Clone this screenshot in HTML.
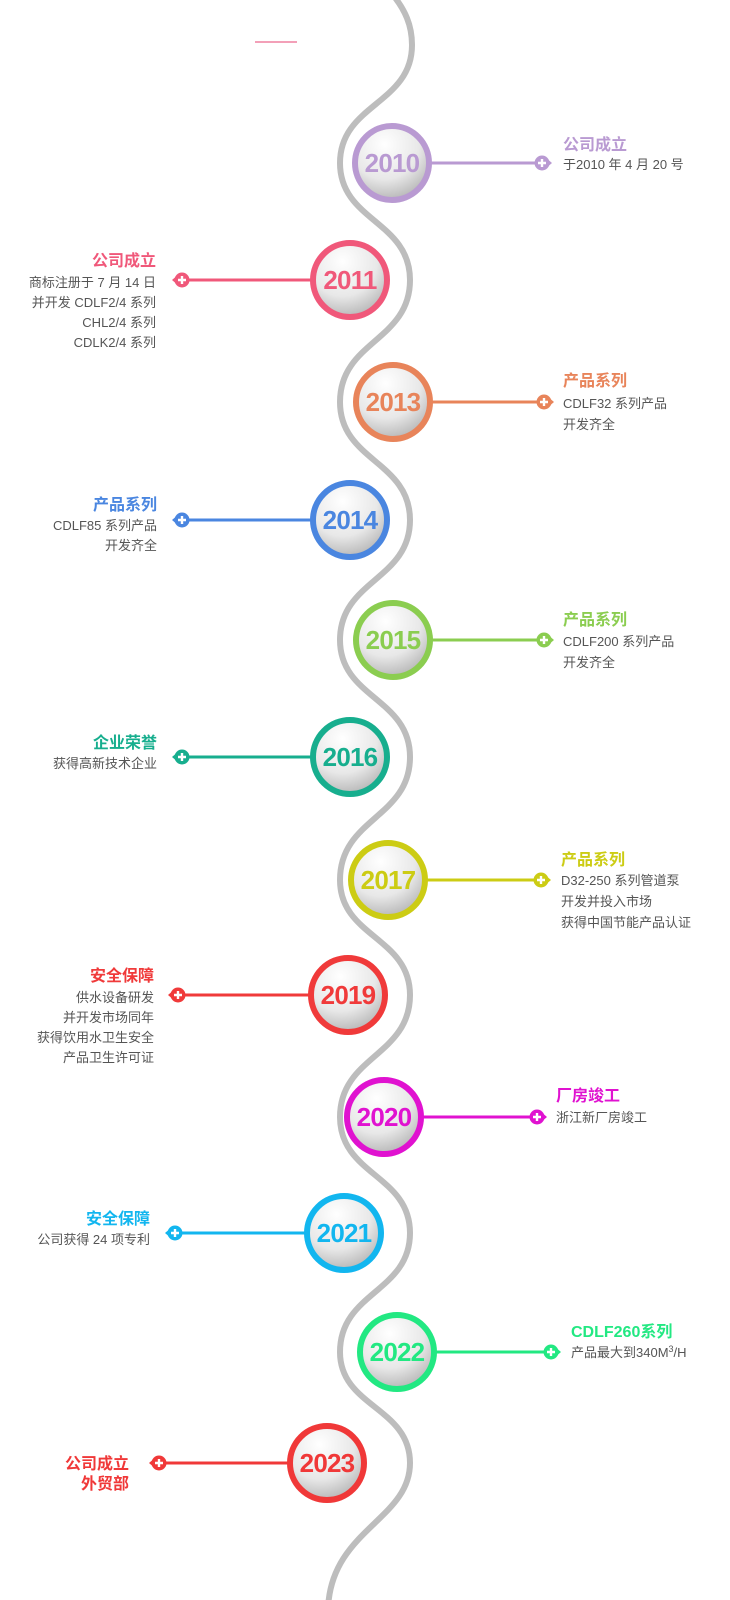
<!DOCTYPE html>
<html><head><meta charset="utf-8">
<style>
html,body{margin:0;padding:0;background:#fff;}
svg{display:block;}
text{font-family:"Liberation Sans","Noto Sans CJK SC",sans-serif;}
.t{font-size:16px;font-weight:bold;}
.b{font-size:13px;fill:#555;}
.y{font-size:26px;font-weight:bold;text-anchor:middle;letter-spacing:-0.8px;}
</style></head>
<body>
<svg width="730" height="1600" viewBox="0 0 730 1600" xmlns="http://www.w3.org/2000/svg">
<defs>
<radialGradient id="g" cx="0.4" cy="0.25" r="0.85">
<stop offset="0" stop-color="#ffffff"/>
<stop offset="0.55" stop-color="#e8e8e8"/>
<stop offset="1" stop-color="#a8a8a8"/>
</radialGradient>
<g id="pr"><circle cx="0" cy="0" r="7.5"/><path d="M3 -6 L10 0 L3 6 Z"/><path d="M-4 0h8M0 -4v8" stroke="#fff" stroke-width="2.4"/></g>
<g id="pl"><circle cx="0" cy="0" r="7.5"/><path d="M-3 -6 L-10 0 L-3 6 Z"/><path d="M-4 0h8M0 -4v8" stroke="#fff" stroke-width="2.4"/></g>
</defs>
<line x1="255" y1="42" x2="297" y2="42" stroke="#f3a0b8" stroke-width="2"/>
<path d="M393 -5 C405 10 412 25 412 45 C412 104 340 104 340 163 C340 221 410 221 410 280 C410 341 340 341 340 402 C340 461 410 461 410 520 C410 580 340 580 340 640 C340 698 410 698 410 757 C410 818 340 818 340 880 C340 937 410 937 410 995 C410 1056 340 1056 340 1117 C340 1175 410 1175 410 1233 C410 1292 340 1292 340 1352 C340 1407 410 1407 410 1463 C410 1520 330 1530 328 1610" fill="none" stroke="#bdbdbd" stroke-width="6"/>

<!-- 2010 right -->
<line x1="430" y1="163" x2="542" y2="163" stroke="#b99ad2" stroke-width="3"/>
<use href="#pr" x="542" y="163" fill="#b99ad2"/>
<circle cx="392" cy="163" r="37" fill="url(#g)" stroke="#b99ad2" stroke-width="6"/>
<text x="392" y="172" class="y" fill="#b99ad2">2010</text>
<text x="563" y="150" class="t" fill="#b99ad2">公司成立</text>
<text x="563" y="169" class="b">于2010 年 4 月 20 号</text>

<!-- 2011 left -->
<line x1="182" y1="280" x2="312" y2="280" stroke="#f0587a" stroke-width="3"/>
<use href="#pl" x="182" y="280" fill="#f0587a"/>
<circle cx="350" cy="280" r="37" fill="url(#g)" stroke="#f0587a" stroke-width="6"/>
<text x="350" y="289" class="y" fill="#f0587a">2011</text>
<text x="156" y="266" class="t" fill="#f0587a" text-anchor="end">公司成立</text>
<text x="156" y="287" class="b" text-anchor="end">商标注册于 7 月 14 日</text>
<text x="156" y="307" class="b" text-anchor="end">并开发 CDLF2/4 系列</text>
<text x="156" y="327" class="b" text-anchor="end">CHL2/4 系列</text>
<text x="156" y="347" class="b" text-anchor="end">CDLK2/4 系列</text>

<!-- 2013 right -->
<line x1="430" y1="402" x2="544" y2="402" stroke="#e8845a" stroke-width="3"/>
<use href="#pr" x="544" y="402" fill="#e8845a"/>
<circle cx="393" cy="402" r="37" fill="url(#g)" stroke="#e8845a" stroke-width="6"/>
<text x="393" y="411" class="y" fill="#e8845a">2013</text>
<text x="563" y="386" class="t" fill="#e8845a">产品系列</text>
<text x="563" y="408" class="b">CDLF32 系列产品</text>
<text x="563" y="429" class="b">开发齐全</text>

<!-- 2014 left -->
<line x1="182" y1="520" x2="312" y2="520" stroke="#4a86e0" stroke-width="3"/>
<use href="#pl" x="182" y="520" fill="#4a86e0"/>
<circle cx="350" cy="520" r="37" fill="url(#g)" stroke="#4a86e0" stroke-width="6"/>
<text x="350" y="529" class="y" fill="#4a86e0">2014</text>
<text x="157" y="510" class="t" fill="#4a86e0" text-anchor="end">产品系列</text>
<text x="157" y="530" class="b" text-anchor="end">CDLF85 系列产品</text>
<text x="157" y="550" class="b" text-anchor="end">开发齐全</text>

<!-- 2015 right -->
<line x1="430" y1="640" x2="544" y2="640" stroke="#8bcd50" stroke-width="3"/>
<use href="#pr" x="544" y="640" fill="#8bcd50"/>
<circle cx="393" cy="640" r="37" fill="url(#g)" stroke="#8bcd50" stroke-width="6"/>
<text x="393" y="649" class="y" fill="#8bcd50">2015</text>
<text x="563" y="625" class="t" fill="#8bcd50">产品系列</text>
<text x="563" y="646" class="b">CDLF200 系列产品</text>
<text x="563" y="667" class="b">开发齐全</text>

<!-- 2016 left -->
<line x1="182" y1="757" x2="312" y2="757" stroke="#17ae8e" stroke-width="3"/>
<use href="#pl" x="182" y="757" fill="#17ae8e"/>
<circle cx="350" cy="757" r="37" fill="url(#g)" stroke="#17ae8e" stroke-width="6"/>
<text x="350" y="766" class="y" fill="#17ae8e">2016</text>
<text x="157" y="748" class="t" fill="#17ae8e" text-anchor="end">企业荣誉</text>
<text x="157" y="768" class="b" text-anchor="end">获得高新技术企业</text>

<!-- 2017 right -->
<line x1="426" y1="880" x2="541" y2="880" stroke="#cccc14" stroke-width="3"/>
<use href="#pr" x="541" y="880" fill="#cccc14"/>
<circle cx="388" cy="880" r="37" fill="url(#g)" stroke="#cccc14" stroke-width="6"/>
<text x="388" y="889" class="y" fill="#cccc14">2017</text>
<text x="561" y="865" class="t" fill="#cccc14">产品系列</text>
<text x="561" y="885" class="b">D32-250 系列管道泵</text>
<text x="561" y="906" class="b">开发并投入市场</text>
<text x="561" y="927" class="b">获得中国节能产品认证</text>

<!-- 2019 left -->
<line x1="178" y1="995" x2="310" y2="995" stroke="#f03a3a" stroke-width="3"/>
<use href="#pl" x="178" y="995" fill="#f03a3a"/>
<circle cx="348" cy="995" r="37" fill="url(#g)" stroke="#f03a3a" stroke-width="6"/>
<text x="348" y="1004" class="y" fill="#f03a3a">2019</text>
<text x="154" y="981" class="t" fill="#f03a3a" text-anchor="end">安全保障</text>
<text x="154" y="1002" class="b" text-anchor="end">供水设备研发</text>
<text x="154" y="1022" class="b" text-anchor="end">并开发市场同年</text>
<text x="154" y="1042" class="b" text-anchor="end">获得饮用水卫生安全</text>
<text x="154" y="1062" class="b" text-anchor="end">产品卫生许可证</text>

<!-- 2020 right -->
<line x1="422" y1="1117" x2="537" y2="1117" stroke="#e012d0" stroke-width="3"/>
<use href="#pr" x="537" y="1117" fill="#e012d0"/>
<circle cx="384" cy="1117" r="37" fill="url(#g)" stroke="#e012d0" stroke-width="6"/>
<text x="384" y="1126" class="y" fill="#e012d0">2020</text>
<text x="556" y="1101" class="t" fill="#e012d0">厂房竣工</text>
<text x="556" y="1122" class="b">浙江新厂房竣工</text>

<!-- 2021 left -->
<line x1="175" y1="1233" x2="306" y2="1233" stroke="#12b6ef" stroke-width="3"/>
<use href="#pl" x="175" y="1233" fill="#12b6ef"/>
<circle cx="344" cy="1233" r="37" fill="url(#g)" stroke="#12b6ef" stroke-width="6"/>
<text x="344" y="1242" class="y" fill="#12b6ef">2021</text>
<text x="150" y="1224" class="t" fill="#12b6ef" text-anchor="end">安全保障</text>
<text x="150" y="1244" class="b" text-anchor="end">公司获得 24 项专利</text>

<!-- 2022 right -->
<line x1="435" y1="1352" x2="551" y2="1352" stroke="#22e882" stroke-width="3"/>
<use href="#pr" x="551" y="1352" fill="#22e882"/>
<circle cx="397" cy="1352" r="37" fill="url(#g)" stroke="#22e882" stroke-width="6"/>
<text x="397" y="1361" class="y" fill="#22e882">2022</text>
<text x="571" y="1337" class="t" fill="#22e882">CDLF260系列</text>
<text x="571" y="1357" class="b">产品最大到340M<tspan dy="-5" font-size="9">3</tspan><tspan dy="5">/H</tspan></text>

<!-- 2023 left -->
<line x1="159" y1="1463" x2="290" y2="1463" stroke="#f03838" stroke-width="3"/>
<use href="#pl" x="159" y="1463" fill="#f03838"/>
<circle cx="327" cy="1463" r="37" fill="url(#g)" stroke="#f03838" stroke-width="6"/>
<text x="327" y="1472" class="y" fill="#f03838">2023</text>
<text x="129" y="1469" class="t" fill="#f03838" text-anchor="end">公司成立</text>
<text x="129" y="1489" class="t" fill="#f03838" text-anchor="end">外贸部</text>
</svg>
</body></html>
